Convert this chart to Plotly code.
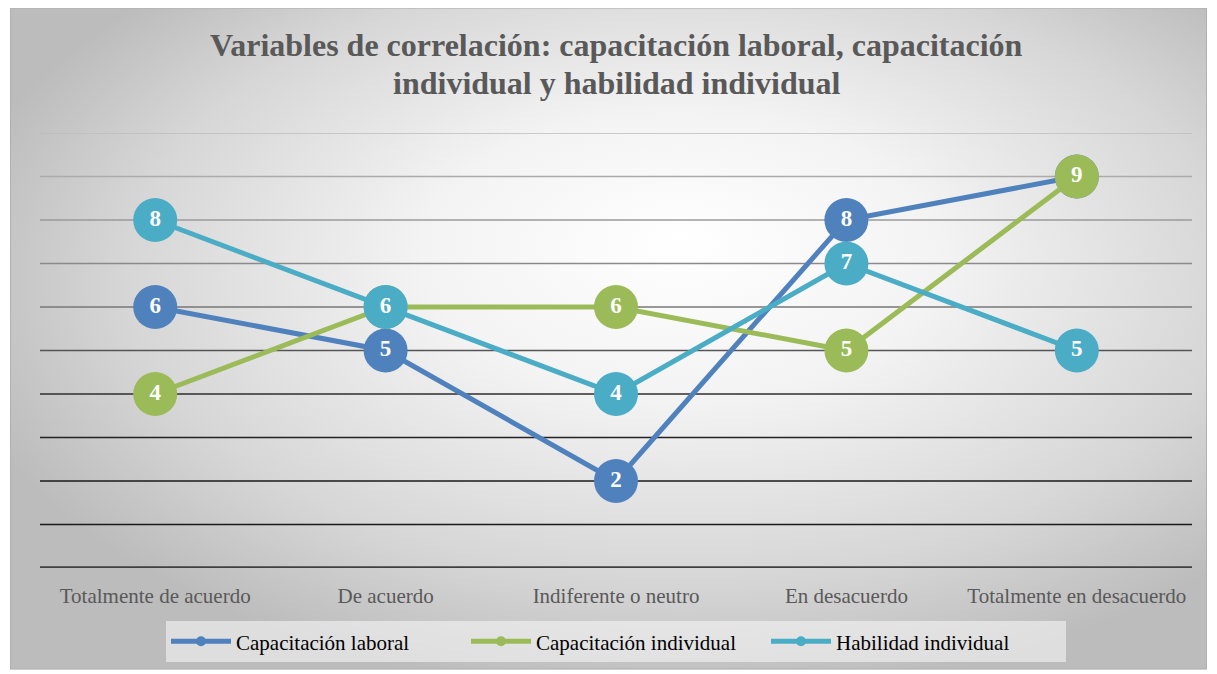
import base64
import plotly.graph_objects as go

categories = ["Totalmente de acuerdo", "De acuerdo", "Indiferente o neutro", "En desacuerdo", "Totalmente en desacuerdo"]
capacitacion_laboral = [6, 5, 2, 8, 9]
capacitacion_individual = [4, 6, 6, 5, 9]
habilidad_individual = [8, 6, 4, 7, 5]
series_names = ["Capacitación laboral", "Capacitación individual", "Habilidad individual"]
series_colors = ["#4f81bd", "#9bbb59", "#4bacc6"]
grid_values = [1, 2, 3, 4, 5, 6, 7, 8, 9, 10]
grid_colors = ["#1a1a1a", "#1a1a1a", "#222222", "#2e2e2e", "#555555", "#777777", "#8a8a8a", "#9a9a9a", "#ababab", "#bcbcbc"]
title_lines = ["Variables de correlación: capacitación laboral, capacitación",
               "individual y habilidad individual"]

FONT = "Liberation Serif, Times New Roman, serif"

svg = """<svg xmlns='http://www.w3.org/2000/svg' width='1200' height='665' viewBox='0 0 1200 665' preserveAspectRatio='none'>
<defs><radialGradient id='g' cx='0.56' cy='0.42' r='0.62' fx='0.56' fy='0.35'>
<stop offset='0' stop-color='#ffffff'/><stop offset='0.35' stop-color='#f3f3f3'/>
<stop offset='0.75' stop-color='#d6d6d6'/><stop offset='1' stop-color='#bcbcbc'/></radialGradient></defs>
<rect x='0' y='0' width='1200' height='665' fill='url(#g)' stroke='#b0b0b0' stroke-width='2'/></svg>"""
svg_uri = "data:image/svg+xml;base64," + base64.b64encode(svg.encode()).decode()

fig = go.Figure()
data = [capacitacion_laboral, capacitacion_individual, habilidad_individual]
for name, vals, col in zip(series_names, data, series_colors):
    fig.add_trace(go.Scatter(
        x=categories, y=vals, mode="lines+markers+text", name=name,
        line=dict(color=col, width=5),
        marker=dict(size=44, color=col),
        text=[str(v) for v in vals], textposition="middle center",
        textfont=dict(family=FONT, size=23, color="white", weight="bold"),
        showlegend=False, cliponaxis=False, hoverinfo="x+y+name"))
for name, col in zip(series_names, series_colors):
    fig.add_trace(go.Scatter(
        x=[None], y=[None], mode="lines+markers", name=name,
        line=dict(color=col, width=5), marker=dict(size=10, color=col)))

# figure sized to compensate for the 8px page margin
W, H = 1209, 666
L, R, T, B = 32, 25, 125, 104
pw, ph = W - L - R, H - T - B
px0, px1, py0, py1 = 2, 1199, -1, 664
fig.add_layout_image(dict(
    source=svg_uri, xref="paper", yref="paper",
    x=(px0 - L) / pw, y=(H - B - py0) / ph,
    sizex=(px1 - px0) / pw, sizey=(py1 - py0) / ph,
    xanchor="left", yanchor="top", sizing="stretch", layer="below"))

shapes = []
for gv, gc in zip(grid_values, grid_colors):
    shapes.append(dict(type="line", xref="paper", yref="y", x0=0, x1=1, y0=gv, y1=gv,
                       line=dict(color=gc, width=1.5), layer="below"))
shapes.append(dict(type="line", xref="paper", yref="y", x0=0, x1=1, y0=0, y1=0,
                   line=dict(color="#404040", width=3.5), layer="below"))

annotations = []
for line_text, fy in zip(title_lines, [37, 75]):
    annotations.append(dict(text="<b>" + line_text + "</b>", xref="paper", yref="paper",
                            x=0.5, xanchor="center", y=(H - B - fy) / ph, yanchor="middle",
                            showarrow=False, font=dict(family=FONT, size=32, color="#595959")))

fig.update_layout(
    width=W, height=H,
    margin=dict(l=L, r=R, t=T, b=B),
    paper_bgcolor="white", plot_bgcolor="rgba(0,0,0,0)",
    shapes=shapes, annotations=annotations,
    xaxis=dict(type="category", range=[-0.5, 4.5], showgrid=False, zeroline=False, showline=False,
               ticks="", ticklabelstandoff=13,
               tickfont=dict(family=FONT, size=21, color="#595959"), fixedrange=True),
    yaxis=dict(range=[0, 10], showgrid=False, zeroline=False, showline=False,
               showticklabels=False, ticks="", fixedrange=True),
    legend=dict(orientation="h", x=0.5, xanchor="center", y=(H - B - 636) / ph, yanchor="middle",
                bgcolor="rgba(245,245,245,0.6)", font=dict(family=FONT, size=21, color="black"),
                itemwidth=60, entrywidth=225),
)

fig.write_html("out.html")
